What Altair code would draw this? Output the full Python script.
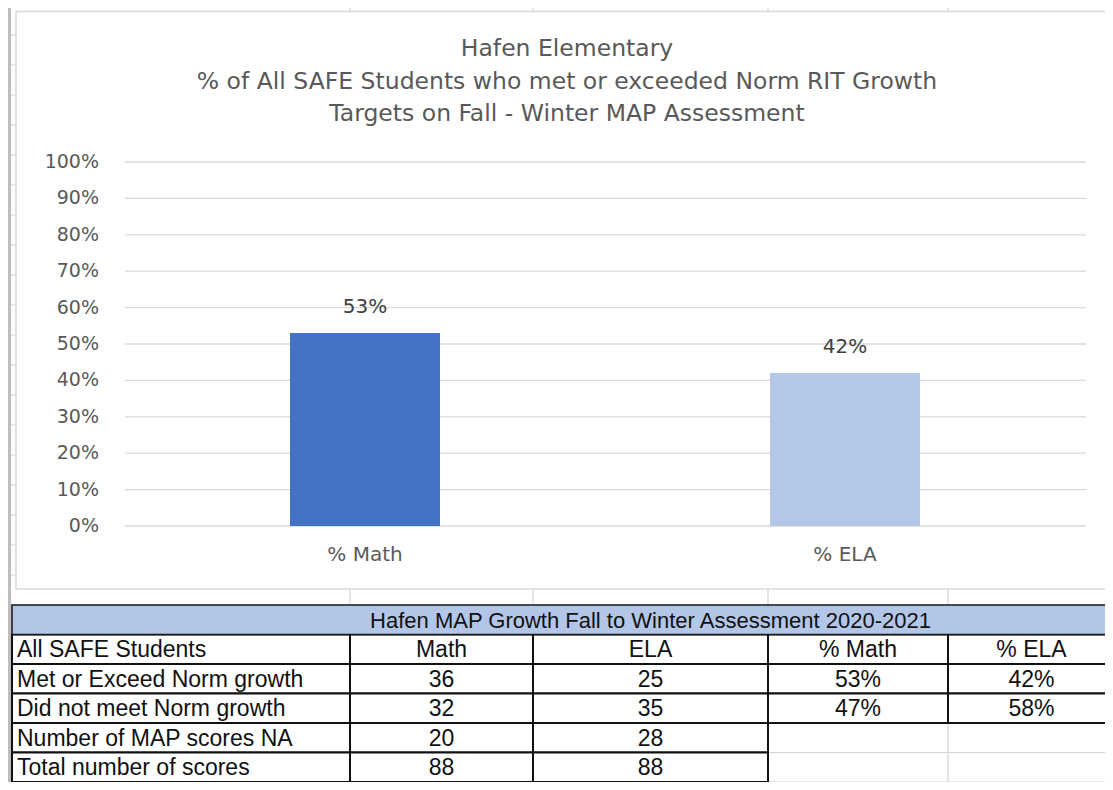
import altair as alt
import pandas as pd

# ---------------- chart data ----------------
categories = ["% Math", "% ELA"]
pct_values = [0.53, 0.42]
bar_colors = ["#4472C4", "#B4C7E7"]
y_ticks = [0.0, 0.1, 0.2, 0.3, 0.4, 0.5, 0.6, 0.7, 0.8, 0.9, 1.0]
title_lines = [
    "Hafen Elementary",
    "% of All SAFE Students who met or exceeded Norm RIT Growth",
    "Targets on Fall - Winter MAP Assessment",
]

# ---------------- table data ----------------
table_title = "Hafen MAP Growth Fall to Winter Assessment 2020-2021"
table_corner = "All SAFE Students"
table_columns = ["Math", "ELA", "% Math", "% ELA"]
row_labels = [
    "Met or Exceed Norm growth",
    "Did not meet Norm growth",
    "Number of MAP scores NA",
    "Total number of scores",
]
math_counts = [36, 32, 20, 88]
ela_counts = [25, 35, 28, 88]
pct_math = ["53%", "47%"]
pct_ela = ["42%", "58%"]

# ---------------- layout (pixels inside the view) ----------------
W, H = 1097, 774
CHART_FONT = "DejaVu Sans"
TABLE_FONT = "Liberation Sans"
TXT_GREY = "#595959"
plot_left, plot_right = 117, 1077
y_zero_px, y_full_px = 518, 154
col_edges_px = [4, 342, 525, 760, 940, 1107]
table_top_px, row_h = 597, 29.5
sheet_cols_px = [342, 525, 760, 940]
sheet_rows_px = [table_top_px - 30 * k for k in range(1, 21)] + \
                [table_top_px + row_h * k for k in range(0, 7)]

# ---------------- build tables ----------------
bars_df = pd.DataFrame({"cat": categories, "v": pct_values,
                        "lbl": [f"{round(v*100)}%" for v in pct_values]})
ticks_df = pd.DataFrame({"t": y_ticks})
title_df = pd.DataFrame({"i": list(range(len(title_lines))), "line": title_lines})

cells = []
cells.append({"r": 1, "c": 0, "text": table_corner})
for j, name in enumerate(table_columns):
    cells.append({"r": 1, "c": j + 1, "text": name})
for i, lab in enumerate(row_labels):
    r = i + 2
    cells.append({"r": r, "c": 0, "text": lab})
    cells.append({"r": r, "c": 1, "text": str(math_counts[i])})
    cells.append({"r": r, "c": 2, "text": str(ela_counts[i])})
    cells.append({"r": r, "c": 3, "text": pct_math[i] if i < len(pct_math) else ""})
    cells.append({"r": r, "c": 4, "text": pct_ela[i] if i < len(pct_ela) else ""})
cells_df = pd.DataFrame(cells)
cells_df["c1"] = cells_df["c"] + 1
cells_df["r1"] = cells_df["r"] + 1
cells_df["cm"] = cells_df["c"] + 0.5
cells_df["rm"] = cells_df["r"] + 0.5
cells_df["bordered"] = (cells_df["text"] != "") | (cells_df["c"] <= 2)
border_df = cells_df[cells_df["bordered"]]
title_row_df = pd.DataFrame({"c": [0], "c1": [5], "r": [0], "r1": [1], "cm": [2.5], "rm": [0.5],
                             "text": [table_title]})

# ---------------- background: spreadsheet grid + chart panel ----------------
one = pd.DataFrame({"k": [0]})
sheet_v = alt.Chart(pd.DataFrame({"px": sheet_cols_px})).mark_rule(
    color="#D4D4D4", strokeWidth=1.2).encode(
    x=alt.X("px:Q", scale=None), y=alt.value(0), y2=alt.value(H))
sheet_h = alt.Chart(pd.DataFrame({"py": sheet_rows_px})).mark_rule(
    color="#D4D4D4", strokeWidth=1.2).encode(
    y=alt.Y("py:Q", scale=None), x=alt.value(0), x2=alt.value(W))
sheet_left = alt.Chart(one).mark_rule(color="#BDBDBD", strokeWidth=3).encode(
    x=alt.value(1.5), y=alt.value(0), y2=alt.value(H))
panel = alt.Chart(one).mark_rect(fill="white", stroke="#D9D9D9", strokeWidth=1.5).encode(
    x=alt.value(8), x2=alt.value(W + 5), y=alt.value(3.5), y2=alt.value(581))
background = alt.layer(sheet_v, sheet_h, sheet_left, panel).resolve_scale(
    x="independent", y="independent")

# ---------------- chart title ----------------
title = alt.Chart(title_df).mark_text(
    font=CHART_FONT, fontSize=23.5, color=TXT_GREY, align="center", baseline="middle").encode(
    x=alt.value(559),
    y=alt.Y("i:Q", axis=None, scale=alt.Scale(domain=[0, 2], range=[41, 106], nice=False, zero=False)),
    text="line:N")

# ---------------- bar chart ----------------
yscale = alt.Scale(domain=[0, 1], range=[y_zero_px, y_full_px], nice=False, zero=True)
xscale = alt.Scale(domain=categories, range=[plot_left, plot_right],
                   paddingInner=0.6875, paddingOuter=0.34375)

grid = alt.Chart(ticks_df).mark_rule(color="#D9D9D9", strokeWidth=1.3).encode(
    y=alt.Y("t:Q", scale=yscale, axis=None),
    x=alt.value(plot_left), x2=alt.value(plot_right + 1))
tick_lbl = alt.Chart(ticks_df).mark_text(
    font=CHART_FONT, fontSize=19, color=TXT_GREY, align="right", baseline="middle").encode(
    y=alt.Y("t:Q", scale=yscale, axis=None),
    x=alt.value(91),
    text=alt.Text("t:Q", format=".0%"))
bars = alt.Chart(bars_df).mark_bar().encode(
    x=alt.X("cat:N", scale=xscale, axis=None, sort=categories),
    y=alt.Y("v:Q", scale=yscale, axis=None),
    color=alt.Color("cat:N", scale=alt.Scale(domain=categories, range=bar_colors), legend=None))
bar_lbl = alt.Chart(bars_df).mark_text(
    font=CHART_FONT, fontSize=20, color="#404040", align="center", baseline="middle", dy=-26).encode(
    x=alt.X("cat:N", scale=xscale, axis=None, sort=categories),
    y=alt.Y("v:Q", scale=yscale, axis=None),
    text="lbl:N")
cat_lbl = alt.Chart(bars_df).mark_text(
    font=CHART_FONT, fontSize=20, color=TXT_GREY, align="center", baseline="middle").encode(
    x=alt.X("cat:N", scale=xscale, axis=None, sort=categories),
    y=alt.value(547),
    text="cat:N")
chart_part = alt.layer(grid, tick_lbl, bars, bar_lbl, cat_lbl)

# ---------------- table ----------------
tx = alt.Scale(domain=[0, 1, 2, 3, 4, 5], range=col_edges_px, nice=False, zero=False)
ty = alt.Scale(domain=[0, 6], range=[table_top_px, table_top_px + 6 * row_h], nice=False, zero=False)

title_row = alt.Chart(title_row_df).mark_rect(fill="#B4C6E7", stroke="#1A1A1A", strokeWidth=1.6).encode(
    x=alt.X("c:Q", scale=tx, axis=None), x2="c1:Q",
    y=alt.Y("r:Q", scale=ty, axis=None), y2="r1:Q")
title_row_txt = alt.Chart(title_row_df).mark_text(
    font=TABLE_FONT, fontSize=22, color="#111111", align="center", baseline="middle", dy=1).encode(
    x=alt.X("cm:Q", scale=tx, axis=None),
    y=alt.Y("rm:Q", scale=ty, axis=None),
    text="text:N")
cell_box = alt.Chart(border_df).mark_rect(fill="white", stroke="#111111", strokeWidth=2).encode(
    x=alt.X("c:Q", scale=tx, axis=None), x2="c1:Q",
    y=alt.Y("r:Q", scale=ty, axis=None), y2="r1:Q")
cell_txt_left = alt.Chart(cells_df[cells_df["c"] == 0]).mark_text(
    font=TABLE_FONT, fontSize=23, color="#111111", align="left", baseline="middle", dx=5, dy=1).encode(
    x=alt.X("c:Q", scale=tx, axis=None),
    y=alt.Y("rm:Q", scale=ty, axis=None),
    text="text:N")
cell_txt_center = alt.Chart(cells_df[cells_df["c"] > 0]).mark_text(
    font=TABLE_FONT, fontSize=23, color="#111111", align="center", baseline="middle", dy=1).encode(
    x=alt.X("cm:Q", scale=tx, axis=None),
    y=alt.Y("rm:Q", scale=ty, axis=None),
    text="text:N")
table_part = alt.layer(cell_box, title_row, title_row_txt, cell_txt_left, cell_txt_center)

chart = alt.layer(background, title, chart_part, table_part).resolve_scale(
    x="independent", y="independent", color="independent"
).properties(
    width=W, height=H, padding=0, autosize=alt.AutoSizeParams(type="none"),
    background="white"
).configure_view(stroke=None)

chart.save("out.html", embed_options={"renderer": "svg", "actions": False})
